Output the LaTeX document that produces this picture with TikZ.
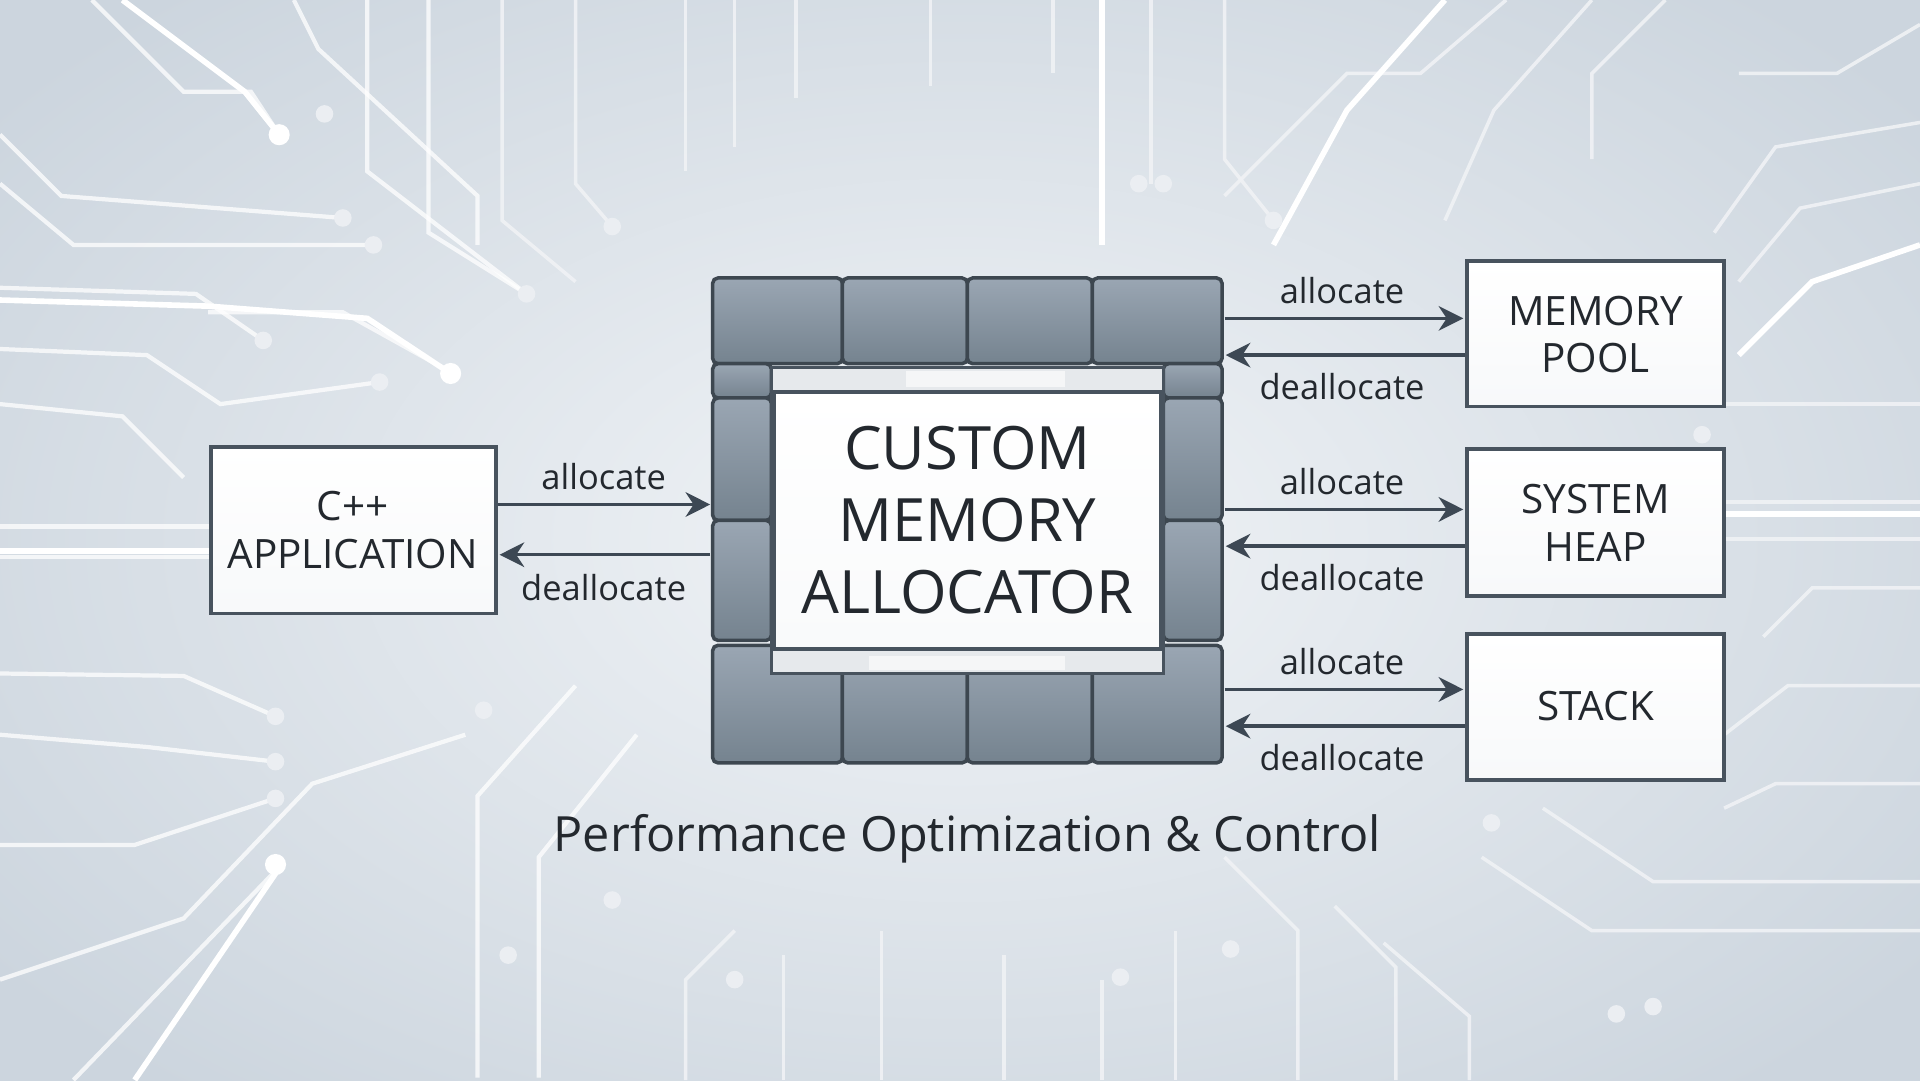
\documentclass[tikz,border=0pt]{standalone}
\usepackage{fontspec}
\setmainfont{Open Sans}
\usetikzlibrary{arrows.meta}
\definecolor{bgin}{HTML}{F1F4F7}
\definecolor{bgout}{HTML}{CCD5DE}
\definecolor{edge}{HTML}{48535E}
\definecolor{tileA}{HTML}{9AA6B3}
\definecolor{tileB}{HTML}{75838F}
\definecolor{arr}{HTML}{3D4854}
\definecolor{txt}{HTML}{23282E}
\begin{document}
\begin{tikzpicture}[x=0.012245cm,y=-0.012245cm,
  trace/.style={draw=white,line width=1.2pt,opacity=0.75},
  traceg/.style={draw=white!70!bgout,line width=1pt,opacity=0.9},
  dot/.style={circle,fill=white!60!bgout,inner sep=0pt,minimum size=5pt},
  wdot/.style={circle,fill=white,inner sep=0pt,minimum size=6pt},
  box/.style={draw=edge,line width=1.1pt,top color=white,bottom color=white!85!bgout},
  btxt/.style={text=txt,align=center,font=\fontsize{11.5}{13.5}\selectfont},
  tile/.style={draw=edge!85!black,line width=1pt,top color=tileA,bottom color=tileB,rounded corners=1.5pt},
  lab/.style={font=\fontsize{9.8}{12}\selectfont,text=txt,inner sep=1pt},
  flow/.style={draw=arr,line width=1pt,-{Stealth[length=7pt,width=7pt]}}]
\useasboundingbox (0,0) rectangle (1568,882);
\shade[inner color=bgin,outer color=bgout] (-200,-150) rectangle (1768,1032);
\foreach \p in {
 {(75,0)--(150,75)--(205,75)--(228,110)},
 {(0,110)--(50,160)--(280,178)},
 {(0,150)--(60,200)--(305,200)},
 {(0,235)--(160,240)--(215,278)},
 {(0,285)--(120,290)--(180,330)--(310,312)},
 {(0,330)--(100,340)--(150,390)},
 {(0,430)--(172,430)},
 {(0,455)--(172,455)},
 {(0,550)--(150,552)--(225,585)},
 {(0,600)--(120,610)--(225,622)},
 {(0,690)--(110,690)--(225,652)},
 {(60,882)--(230,706)},
 {(0,800)--(150,750)--(255,640)--(380,600)},
 {(300,0)--(300,140)--(430,240)},
 {(350,0)--(350,190)--(430,240)},
 {(240,0)--(260,40)--(390,160)--(390,200)},
 {(170,255)--(280,255)--(370,305)},
 {(390,880)--(390,650)--(470,560)},
 {(440,880)--(440,700)--(520,600)}}
 {\draw[trace] \p;}
\foreach \p in {
 {(410,0)--(410,180)--(470,230)},
 {(470,0)--(470,150)--(500,185)},
 {(560,0)--(560,140)},
 {(600,0)--(600,120)},
 {(650,0)--(650,80)},
 {(760,0)--(760,70)},
 {(860,0)--(860,60)},
 {(940,0)--(940,150)},
 {(1000,0)--(1000,130)--(1040,180)},
 {(1568,100)--(1450,120)--(1400,190)},
 {(1568,150)--(1470,170)--(1420,230)},
 {(1568,330)--(1408,330)},
 {(1568,410)--(1408,410)},
 {(1568,440)--(1408,440)},
 {(1568,480)--(1480,480)--(1440,520)},
 {(1568,560)--(1460,560)--(1408,600)},
 {(1568,640)--(1450,640)--(1408,660)},
 {(1568,720)--(1350,720)--(1260,660)},
 {(1568,760)--(1300,760)--(1210,700)},
 {(1230,0)--(1160,60)--(1100,60)--(1000,160)},
 {(1300,0)--(1220,90)--(1180,180)},
 {(1360,0)--(1300,60)--(1300,130)},
 {(1568,20)--(1500,60)--(1420,60)},
 {(1060,882)--(1060,760)--(1000,700)},
 {(1140,882)--(1140,790)--(1090,740)},
 {(1200,882)--(1200,830)--(1130,770)},
 {(560,882)--(560,800)--(600,760)},
 {(640,882)--(640,780)},
 {(720,882)--(720,760)},
 {(820,882)--(820,780)},
 {(900,882)--(900,800)},
 {(960,882)--(960,760)}}
 {\draw[traceg] \p;}
\draw[draw=white,line width=1.6pt] (100,0)--(200,75)--(228,110);
\draw[draw=white,line width=1.6pt] (0,245)--(170,250)--(300,260)--(368,305);
\draw[draw=white,line width=1.6pt] (0,450)--(172,450);
\draw[draw=white,line width=1.6pt] (110,882)--(230,706);
\draw[draw=white,line width=1.6pt] (1568,420)--(1408,420);
\draw[draw=white,line width=1.6pt] (1568,200)--(1480,230)--(1420,290);
\draw[draw=white,line width=1.6pt] (900,0)--(900,200);
\draw[draw=white,line width=1.6pt] (1180,0)--(1100,90)--(1040,200);
\node[wdot] (w1) at (228,110) {};
\node[wdot] (w2) at (368,305) {};
\node[wdot] (w3) at (225,706) {};
\foreach \x/\y [count=\i] in {265/93,280/178,305/200,215/278,310/312,430/240,500/185,225/585,225/622,225/652,395/580,415/780,500/735,1390/355,1218/672,1320/828,1350/822,1005/775,930/150,950/150,1040/180,600/800,915/798}
  \node[dot] (d\i) at (\x,\y) {};
% chip
\foreach \a/\b in {582/688,688/790,790/892,892/998}{
  \draw[tile] (\a,227) rectangle (\b,297);
  \draw[tile] (\a,527) rectangle (\b,623);}
\foreach \a/\b in {297/325,325/425,425/523}{
  \draw[tile] (582,\a) rectangle (630,\b);
  \draw[tile] (950,\a) rectangle (998,\b);}
\draw[draw=edge,line width=1pt,fill=white!75!tileA] (630,300) rectangle (950,550);
\draw[draw=none,fill=white!90!tileA] (740,303) rectangle (870,316);
\draw[draw=none,fill=white!90!tileA] (710,536) rectangle (870,547);
\path[draw=edge,line width=1pt,top color=white,bottom color=white!88!bgout] (632,320) rectangle (948,530);
\node[text=txt,align=center,font=\fontsize{17}{20.5}\selectfont] (cma) at (790,425) {CUSTOM\\MEMORY\\ALLOCATOR};
% boxes
\path[box] (172,365) rectangle (405,501);
\node[btxt] (app) at (288,433) {C++\\APPLICATION};
\path[box] (1198,213) rectangle (1408,332);
\node[btxt] (pool) at (1303,273) {MEMORY\\POOL};
\path[box] (1198,367) rectangle (1408,487);
\node[btxt] (heap) at (1303,427) {SYSTEM\\HEAP};
\path[box] (1198,518) rectangle (1408,637);
\node[btxt] (stack) at (1303,577) {STACK};
\coordinate (a1) at (407,412); \coordinate (a2) at (580,412);
\coordinate (a3) at (580,453); \coordinate (a4) at (408,453);
\draw[flow] (a1)--(a2); \draw[flow] (a3)--(a4);
\node[lab] at (493,389) {allocate};
\node[lab] at (493,480) {deallocate};
\foreach \y/\n in {260/p,416/h,563/s}{
  \coordinate (r1\n) at (1000,\y); \coordinate (r2\n) at (1195,\y);
  \coordinate (r3\n) at (1196,\y+30); \coordinate (r4\n) at (1001,\y+30);
  \draw[flow] (r1\n)--(r2\n); \draw[flow] (r3\n)--(r4\n);
  \node[lab] at (1096,\y-23) {allocate};
  \node[lab] at (1096,\y+56) {deallocate};}
\node[text=txt,font=\fontsize{13.8}{16}\selectfont] (cap) at (790,685) {Performance Optimization \& Control};
\end{tikzpicture}
\end{document}
